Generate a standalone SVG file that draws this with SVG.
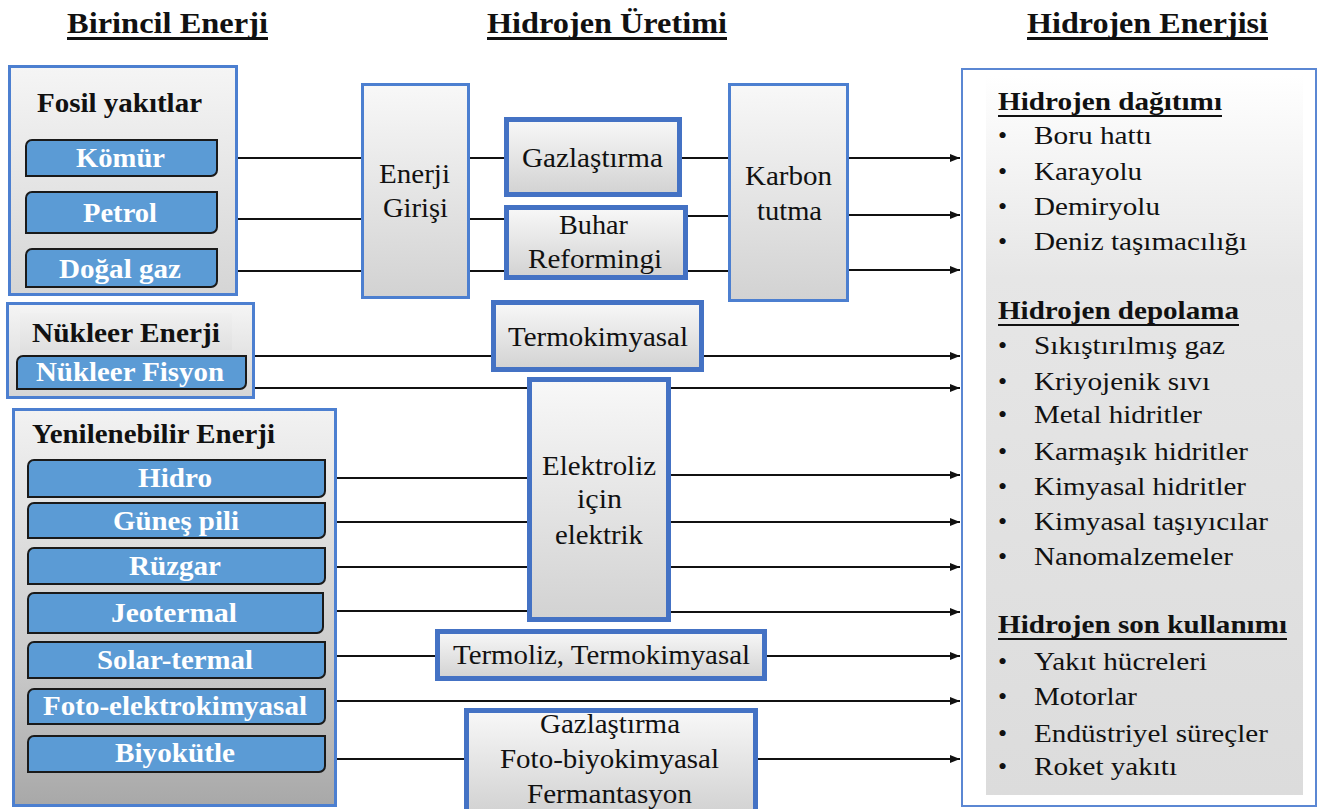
<svg xmlns="http://www.w3.org/2000/svg" width="1319" height="809" viewBox="0 0 1319 809" font-family="Liberation Serif, serif">
<style>
.t{fill:#111;font-size:28px}
.r{font-size:26px}
.b{font-weight:bold}
.w{font-weight:bold;fill:#fff;font-size:28px}
.ttl{font-size:29px;font-weight:bold}
.c{stroke:#111;stroke-width:1.8;fill:none}
.ca{stroke:#111;stroke-width:1.8;fill:none;marker-end:url(#ah)}
.ul{stroke:#111}
.pill{fill:#5B9BD5;stroke:#1a1a1a;stroke-width:2}
.thin{stroke:#4C7FD0;stroke-width:3}
.thick{stroke:#4472C4;stroke-width:5}
</style>
<defs>
<linearGradient id="gb" x1="0" y1="0" x2="0" y2="1"><stop offset="0" stop-color="#f8f8f8"/><stop offset="1" stop-color="#d2d2d2"/></linearGradient>
<linearGradient id="gf" x1="0" y1="0" x2="0" y2="1"><stop offset="0" stop-color="#f5f5f5"/><stop offset="1" stop-color="#d5d5d5"/></linearGradient>
<linearGradient id="gr" x1="0" y1="0" x2="0" y2="1"><stop offset="0" stop-color="#f2f2f2"/><stop offset="0.65" stop-color="#c9c9c9"/><stop offset="1" stop-color="#a8a8a8"/></linearGradient>
<linearGradient id="gh" x1="0" y1="0" x2="0" y2="1"><stop offset="0" stop-color="#f0f0f0"/><stop offset="1" stop-color="#e0e0e0"/></linearGradient>
<linearGradient id="gi" x1="0" y1="0" x2="0" y2="1"><stop offset="0" stop-color="#ffffff"/><stop offset="0.28" stop-color="#e6e6e6"/><stop offset="1" stop-color="#dcdcdc"/></linearGradient>
<marker id="ah" markerUnits="userSpaceOnUse" markerWidth="10" markerHeight="8" refX="10" refY="4" orient="auto"><path d="M0,0 L10,4 L0,8 Z" fill="#111"/></marker>
</defs>
<rect width="1319" height="809" fill="#fff"/>

<g id="titles">
<text class="t ttl" x="67" y="33" textLength="201" lengthAdjust="spacingAndGlyphs">Birincil Enerji</text>
<line class="ul" x1="67" y1="38.5" x2="268" y2="38.5" stroke-width="3"/>
<text class="t ttl" x="487" y="33" textLength="240" lengthAdjust="spacingAndGlyphs">Hidrojen Üretimi</text>
<line class="ul" x1="487" y1="38.5" x2="727" y2="38.5" stroke-width="3"/>
<text class="t ttl" x="1027" y="33" textLength="241" lengthAdjust="spacingAndGlyphs">Hidrojen Enerjisi</text>
<line class="ul" x1="1027" y1="38.5" x2="1268" y2="38.5" stroke-width="3"/>
</g>

<g id="connectors">
<line class="c" x1="238" y1="158" x2="362" y2="158"/>
<line class="c" x1="470" y1="158" x2="505" y2="158"/>
<line class="c" x1="681" y1="158" x2="729" y2="158"/>
<line class="ca" x1="848" y1="158" x2="960" y2="158"/>
<line class="c" x1="238" y1="219" x2="362" y2="219"/>
<line class="c" x1="470" y1="219" x2="505" y2="219"/>
<line class="c" x1="687" y1="216" x2="729" y2="216"/>
<line class="ca" x1="848" y1="215" x2="960" y2="215"/>
<line class="c" x1="238" y1="271" x2="362" y2="271"/>
<line class="c" x1="470" y1="271" x2="505" y2="271"/>
<line class="c" x1="687" y1="271" x2="729" y2="271"/>
<line class="ca" x1="848" y1="270" x2="960" y2="270"/>
<line class="c" x1="255" y1="356" x2="492" y2="356"/>
<line class="ca" x1="703" y1="356" x2="960" y2="356"/>
<line class="c" x1="255" y1="388" x2="528" y2="388"/>
<line class="ca" x1="670" y1="388" x2="960" y2="388"/>
<line class="c" x1="337" y1="478" x2="528" y2="478"/>
<line class="ca" x1="670" y1="475" x2="960" y2="475"/>
<line class="c" x1="337" y1="522" x2="528" y2="522"/>
<line class="ca" x1="670" y1="522" x2="960" y2="522"/>
<line class="c" x1="337" y1="567" x2="528" y2="567"/>
<line class="ca" x1="670" y1="567" x2="960" y2="567"/>
<line class="c" x1="337" y1="611" x2="528" y2="611"/>
<line class="ca" x1="670" y1="612" x2="960" y2="612"/>
<line class="c" x1="337" y1="656" x2="436" y2="656"/>
<line class="ca" x1="766" y1="656" x2="960" y2="656"/>
<line class="ca" x1="337" y1="701" x2="960" y2="701"/>
<line class="c" x1="337" y1="759" x2="465" y2="759"/>
<line class="ca" x1="757" y1="759" x2="960" y2="759"/>
</g>

<g id="fosil">
<rect x="9.5" y="66.5" width="227" height="228" fill="url(#gf)" class="thin"/>
<text class="t b" x="37" y="112" textLength="165" lengthAdjust="spacingAndGlyphs">Fosil yakıtlar</text>
<path class="pill" d="M32,140 H217 V170 A6,6 0 0 1 211,176 H26 V146 A6,6 0 0 1 32,140 Z"/>
<text class="w" x="76" y="167" textLength="89" lengthAdjust="spacingAndGlyphs">Kömür</text>
<path class="pill" d="M32,192 H217 V227 A6,6 0 0 1 211,233 H26 V198 A6,6 0 0 1 32,192 Z"/>
<text class="w" x="83" y="222" textLength="74" lengthAdjust="spacingAndGlyphs">Petrol</text>
<path class="pill" d="M32,249 H217 V281 A6,6 0 0 1 211,287 H26 V255 A6,6 0 0 1 32,249 Z"/>
<text class="w" x="59" y="278" textLength="122" lengthAdjust="spacingAndGlyphs">Doğal gaz</text>
</g>

<g id="nukleer">
<rect x="7.5" y="303.5" width="246" height="94" fill="url(#gf)" class="thin"/>
<rect x="20" y="313" width="212" height="37" fill="url(#gh)"/>
<text class="t b" x="32" y="342" textLength="188" lengthAdjust="spacingAndGlyphs">Nükleer Enerji</text>
<path class="pill" d="M23,356 H246 V383 A6,6 0 0 1 240,389 H17 V362 A6,6 0 0 1 23,356 Z"/>
<text class="w" x="36" y="381" textLength="188" lengthAdjust="spacingAndGlyphs">Nükleer Fisyon</text>
</g>

<g id="yenilenebilir">
<rect x="13.5" y="409.5" width="322" height="396" fill="url(#gr)" class="thin"/>
<text class="t b" x="32" y="443" textLength="243" lengthAdjust="spacingAndGlyphs">Yenilenebilir Enerji</text>
<path class="pill" d="M34,460 H325 V491 A6,6 0 0 1 319,497 H28 V466 A6,6 0 0 1 34,460 Z"/>
<text class="w" x="138" y="487" textLength="74" lengthAdjust="spacingAndGlyphs">Hidro</text>
<path class="pill" d="M34,503 H325 V532 A6,6 0 0 1 319,538 H28 V509 A6,6 0 0 1 34,503 Z"/>
<text class="w" x="113" y="530" textLength="126" lengthAdjust="spacingAndGlyphs">Güneş pili</text>
<path class="pill" d="M34,548 H325 V578 A6,6 0 0 1 319,584 H28 V554 A6,6 0 0 1 34,548 Z"/>
<text class="w" x="129" y="575" textLength="92" lengthAdjust="spacingAndGlyphs">Rüzgar</text>
<path class="pill" d="M34,593 H323 V627 A6,6 0 0 1 317,633 H28 V599 A6,6 0 0 1 34,593 Z"/>
<text class="w" x="111" y="622" textLength="126" lengthAdjust="spacingAndGlyphs">Jeotermal</text>
<path class="pill" d="M34,642 H325 V672 A6,6 0 0 1 319,678 H28 V648 A6,6 0 0 1 34,642 Z"/>
<text class="w" x="97" y="669" textLength="156" lengthAdjust="spacingAndGlyphs">Solar-termal</text>
<path class="pill" d="M34,689 H325 V718 A6,6 0 0 1 319,724 H28 V695 A6,6 0 0 1 34,689 Z"/>
<text class="w" x="43" y="715" textLength="264" lengthAdjust="spacingAndGlyphs">Foto-elektrokimyasal</text>
<path class="pill" d="M34,736 H325 V766 A6,6 0 0 1 319,772 H28 V742 A6,6 0 0 1 34,736 Z"/>
<text class="w" x="115" y="762" textLength="120" lengthAdjust="spacingAndGlyphs">Biyokütle</text>
</g>

<g id="enerji-girisi">
<rect x="362.5" y="84.5" width="106" height="213" fill="url(#gb)" class="thin"/>
<text class="t" x="379" y="183" textLength="71" lengthAdjust="spacingAndGlyphs">Enerji</text>
<text class="t" x="383" y="217" textLength="65" lengthAdjust="spacingAndGlyphs">Girişi</text>
</g>

<g id="gazlastirma">
<rect x="506.5" y="119.5" width="173" height="75" fill="url(#gb)" class="thick"/>
<text class="t" x="522" y="167" textLength="141" lengthAdjust="spacingAndGlyphs">Gazlaştırma</text>
</g>

<g id="buhar">
<rect x="506.5" y="207.5" width="179" height="70" fill="url(#gb)" class="thick"/>
<text class="t" x="559" y="234" textLength="69" lengthAdjust="spacingAndGlyphs">Buhar</text>
<text class="t" x="528" y="268" textLength="134" lengthAdjust="spacingAndGlyphs">Reformingi</text>
</g>

<g id="karbon">
<rect x="729.5" y="84.5" width="118" height="216" fill="url(#gb)" class="thin"/>
<text class="t" x="745" y="185" textLength="87" lengthAdjust="spacingAndGlyphs">Karbon</text>
<text class="t" x="757" y="220" textLength="65" lengthAdjust="spacingAndGlyphs">tutma</text>
</g>

<g id="termokimyasal">
<rect x="493.5" y="302.5" width="208" height="67" fill="url(#gb)" class="thick"/>
<text class="t" x="508" y="346" textLength="180" lengthAdjust="spacingAndGlyphs">Termokimyasal</text>
</g>

<g id="elektroliz">
<rect x="529.5" y="379.5" width="139" height="240" fill="url(#gb)" class="thick"/>
<text class="t" x="542" y="475" textLength="114" lengthAdjust="spacingAndGlyphs">Elektroliz</text>
<text class="t" x="577" y="508" textLength="45" lengthAdjust="spacingAndGlyphs">için</text>
<text class="t" x="555" y="544" textLength="88" lengthAdjust="spacingAndGlyphs">elektrik</text>
</g>

<g id="termoliz">
<rect x="437.5" y="631.5" width="327" height="47" fill="url(#gb)" class="thick"/>
<text class="t" x="453" y="664" textLength="297" lengthAdjust="spacingAndGlyphs">Termoliz, Termokimyasal</text>
</g>

<g id="biyokimyasal">
<rect x="466.5" y="710.5" width="289" height="102" fill="url(#gb)" class="thick"/>
<text class="t" x="540" y="733" textLength="140" lengthAdjust="spacingAndGlyphs">Gazlaştırma</text>
<text class="t" x="500" y="768" textLength="219" lengthAdjust="spacingAndGlyphs">Foto-biyokimyasal</text>
<text class="t" x="527" y="803" textLength="165" lengthAdjust="spacingAndGlyphs">Fermantasyon</text>
</g>

<g id="hidrojen-enerjisi">
<rect x="962" y="69" width="354" height="737" fill="#fff" stroke="#5B87D3" stroke-width="2"/>
<rect x="986" y="76" width="317" height="719" fill="url(#gi)"/>
<text class="t r b" x="998" y="110" textLength="224" lengthAdjust="spacingAndGlyphs">Hidrojen dağıtımı</text>
<line class="ul" x1="998" y1="116" x2="1222" y2="116" stroke-width="2"/>
<g class="t r">
<text x="998" y="144">•</text><text x="1034" y="144" textLength="118" lengthAdjust="spacingAndGlyphs">Boru hattı</text>
<text x="998" y="180">•</text><text x="1034" y="180" textLength="108" lengthAdjust="spacingAndGlyphs">Karayolu</text>
<text x="998" y="215">•</text><text x="1034" y="215" textLength="126" lengthAdjust="spacingAndGlyphs">Demiryolu</text>
<text x="998" y="250">•</text><text x="1034" y="250" textLength="213" lengthAdjust="spacingAndGlyphs">Deniz taşımacılığı</text>
</g>
<text class="t r b" x="998" y="319" textLength="241" lengthAdjust="spacingAndGlyphs">Hidrojen depolama</text>
<line class="ul" x1="998" y1="325" x2="1239" y2="325" stroke-width="2"/>
<g class="t r">
<text x="998" y="354">•</text><text x="1034" y="354" textLength="191" lengthAdjust="spacingAndGlyphs">Sıkıştırılmış gaz</text>
<text x="998" y="390">•</text><text x="1034" y="390" textLength="176" lengthAdjust="spacingAndGlyphs">Kriyojenik sıvı</text>
<text x="998" y="423">•</text><text x="1034" y="423" textLength="168" lengthAdjust="spacingAndGlyphs">Metal hidritler</text>
<text x="998" y="460">•</text><text x="1034" y="460" textLength="214" lengthAdjust="spacingAndGlyphs">Karmaşık hidritler</text>
<text x="998" y="495">•</text><text x="1034" y="495" textLength="212" lengthAdjust="spacingAndGlyphs">Kimyasal hidritler</text>
<text x="998" y="530">•</text><text x="1034" y="530" textLength="234" lengthAdjust="spacingAndGlyphs">Kimyasal taşıyıcılar</text>
<text x="998" y="565">•</text><text x="1034" y="565" textLength="199" lengthAdjust="spacingAndGlyphs">Nanomalzemeler</text>
</g>
<text class="t r b" x="998" y="633" textLength="289" lengthAdjust="spacingAndGlyphs">Hidrojen son kullanımı</text>
<line class="ul" x1="998" y1="639" x2="1287" y2="639" stroke-width="2"/>
<g class="t r">
<text x="998" y="670">•</text><text x="1034" y="670" textLength="173" lengthAdjust="spacingAndGlyphs">Yakıt hücreleri</text>
<text x="998" y="705">•</text><text x="1034" y="705" textLength="103" lengthAdjust="spacingAndGlyphs">Motorlar</text>
<text x="998" y="742">•</text><text x="1034" y="742" textLength="234" lengthAdjust="spacingAndGlyphs">Endüstriyel süreçler</text>
<text x="998" y="775">•</text><text x="1034" y="775" textLength="143" lengthAdjust="spacingAndGlyphs">Roket yakıtı</text>
</g>
</g>
</svg>
